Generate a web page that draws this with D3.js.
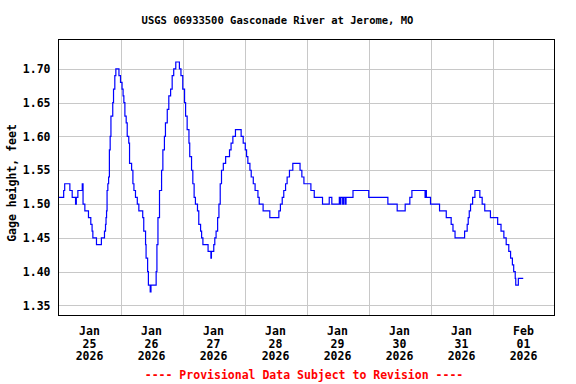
<!DOCTYPE html>
<html><head><meta charset="utf-8">
<script src="https://cdn.jsdelivr.net/npm/d3@7"></script>
<style>
body{margin:0;background:#fff}
svg{display:block}
text{font-family:'DejaVu Sans Mono',monospace;font-weight:bold}
</style>
</head><body><svg id="c" width="576" height="384"></svg>
<script>
const title = "USGS 06933500 Gasconade River at Jerome, MO";
const yLabel = "Gage height, feet";
const footnote = "---- Provisional Data Subject to Revision ----";
const startDate = new Date(2026, 0, 25);
const endDate = new Date(2026, 1, 2);
const yTicks = [1.35, 1.40, 1.45, 1.50, 1.55, 1.60, 1.65, 1.70];
const yDomain = [1.3352, 1.7433];

// hours after Jan 25 2026 00:00 at which the reading changes, and the reading (feet)
const hours = [0,2.0,2.4,4.4,5.3,6.6,6.9,7.5,9.2,9.5,10.2,11.6,12.5,13.0,13.3,14.7,16.6,17.8,18.2,18.4,18.6,18.8,19.1,19.4,19.7,20.0,20.3,21.0,21.3,21.8,22.2,23.4,
24.0,24.6,25.0,25.3,25.7,26.2,26.6,27.2,27.5,28.3,28.8,29.2,29.8,30.5,31.1,32.6,33.0,33.7,33.9,34.5,34.8,35.5,35.8,37.8,38.1,38.5,39.1,39.9,40.4,41.0,41.4,42.1,42.7,43.4,44.0,44.6,45.4,46.8,47.4,
48.1,48.8,49.2,49.8,50.5,50.8,51.5,52.0,52.5,53.0,53.8,54.3,55.0,55.4,55.9,57.9,59.0,59.2,60.1,60.5,61.0,61.6,62.1,62.6,63.1,63.8,64.7,66.2,66.8,67.5,68.5,70.7,71.5,
72.3,72.8,73.3,74.1,74.6,75.4,76.1,77.2,77.7,79.2,81.8,85.3,85.9,86.6,87.2,87.9,88.5,89.4,90.7,93.5,94.2,95.0,97.7,99.0,102.2,104.8,105.8,108.7,109.0,109.3,110.0,110.4,111.0,111.3,114.0,
120.1,127.5,131.1,134.2,136.0,136.8,141.9,142.1,142.4,144.0,147.5,150.1,152.0,152.7,153.5,157.2,158.2,158.6,159.0,159.5,160.3,161.2,163.1,164.0,165.0,167.2,
170.0,171.3,172.4,173.3,174.3,175.0,175.7,176.2,176.8,177.0,178.0,179.9];
const stage = [1.51,1.52,1.53,1.52,1.51,1.50,1.51,1.52,1.53,1.50,1.49,1.48,1.47,1.46,1.45,1.44,1.45,1.46,1.47,1.48,1.49,1.52,1.53,1.54,1.58,1.60,1.63,1.65,1.67,1.69,1.70,1.69,
1.68,1.67,1.66,1.65,1.63,1.62,1.60,1.59,1.56,1.55,1.53,1.52,1.51,1.50,1.49,1.48,1.46,1.44,1.42,1.40,1.38,1.37,1.38,1.40,1.44,1.48,1.52,1.55,1.58,1.60,1.62,1.64,1.66,1.67,1.69,1.70,1.71,1.70,1.69,
1.67,1.65,1.63,1.61,1.59,1.57,1.55,1.53,1.51,1.50,1.49,1.47,1.46,1.45,1.44,1.43,1.42,1.43,1.44,1.45,1.46,1.48,1.50,1.53,1.55,1.56,1.57,1.58,1.59,1.60,1.61,1.60,1.59,
1.58,1.57,1.56,1.55,1.54,1.53,1.52,1.51,1.50,1.49,1.48,1.49,1.50,1.51,1.52,1.53,1.54,1.55,1.56,1.55,1.54,1.53,1.52,1.51,1.50,1.51,1.50,1.51,1.50,1.51,1.50,1.51,1.50,1.51,1.52,
1.51,1.50,1.49,1.50,1.51,1.52,1.51,1.52,1.51,1.50,1.49,1.48,1.47,1.46,1.45,1.46,1.47,1.48,1.49,1.50,1.51,1.52,1.51,1.50,1.49,1.48,
1.47,1.46,1.45,1.44,1.43,1.42,1.41,1.40,1.39,1.38,1.39,1.39];

const data = hours.map((h, i) => ({t: d3.timeMinute.offset(startDate, Math.round(h * 60)), v: stage[i]}));

const L = 58.5, R = 554.5, T = 39.5, B = 315.5;
const svg = d3.select("#c");
const x = d3.scaleTime().domain([startDate, endDate]).range([L, R]);
const y = d3.scaleLinear().domain(yDomain).range([B, T]);

// horizontal gridlines + y tick labels
const ya = svg.append("g").attr("transform", `translate(${L},0)`)
  .call(d3.axisLeft(y).tickValues(yTicks).tickFormat(d3.format(".2f")).tickSize(-(R - L)).tickPadding(8));
ya.select(".domain").remove();
ya.selectAll("line").attr("stroke", "#c8c8c8").attr("shape-rendering", "crispEdges");
ya.selectAll("text").attr("font-size", "11.5px").attr("fill", "#000")
  .style("font-family", "'DejaVu Sans Mono',monospace").style("font-weight", "bold");

// vertical gridlines at midnight
const days = d3.timeDay.range(d3.timeDay.offset(startDate, 1), endDate);
const xa = svg.append("g").attr("transform", `translate(0,${B})`)
  .call(d3.axisBottom(x).tickValues(days).tickSize(-(B - T)).tickFormat(""));
xa.select(".domain").remove();
xa.selectAll("line").attr("stroke", "#c8c8c8").attr("shape-rendering", "crispEdges");

// x labels at noon
const labelDays = d3.timeDay.range(startDate, endDate);
const fm = [d3.timeFormat("%b"), d3.timeFormat("%d"), d3.timeFormat("%Y")];
const lab = svg.append("g");
labelDays.forEach(d => {
  const t = lab.append("text").attr("x", x(d3.timeHour.offset(d, 12)))
    .attr("text-anchor", "middle").attr("font-size", "11.5px").attr("fill", "#000");
  [335, 347.5, 360].forEach((yy, i) => {
    t.append("tspan").attr("x", x(d3.timeHour.offset(d, 12))).attr("y", yy).text(fm[i](d));
  });
});

// data line
svg.append("path").datum(data)
  .attr("fill", "none").attr("stroke", "#0000ff").attr("stroke-width", 1.2)
  .attr("d", d3.line().x(d => x(d.t)).y(d => y(d.v)).curve(d3.curveStepAfter));

// frame
svg.append("rect").attr("x", L).attr("y", T).attr("width", R - L).attr("height", B - T)
  .attr("fill", "none").attr("stroke", "#000").attr("stroke-width", 1).attr("shape-rendering", "crispEdges");

// titles
svg.append("text").attr("x", 277.5).attr("y", 24).attr("text-anchor", "middle")
  .attr("font-size", "10.5px").attr("fill", "#000").text(title);
svg.append("text").attr("transform", "translate(16,183) rotate(-90)").attr("text-anchor", "middle")
  .attr("font-size", "11.5px").attr("fill", "#000").text(yLabel);
svg.append("text").attr("x", 304).attr("y", 379).attr("text-anchor", "middle")
  .attr("font-size", "11.5px").attr("fill", "#ff0000").text(footnote);
</script>
</body></html>
